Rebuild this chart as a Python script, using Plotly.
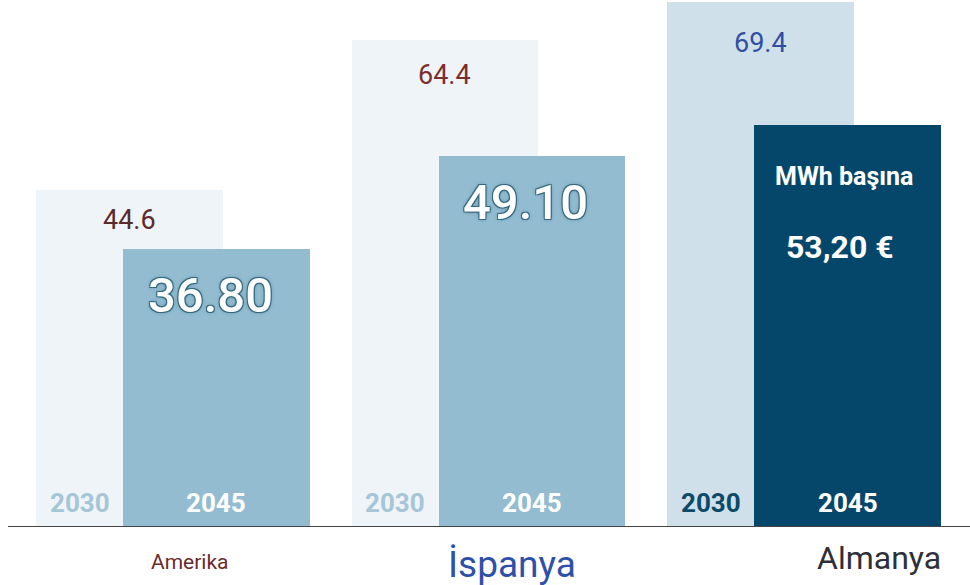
import plotly.graph_objects as go

countries = ["Amerika", "İspanya", "Almanya"]
values_2030 = [44.6, 64.4, 69.4]
values_2045 = [36.80, 49.10, 53.20]
labels_2030 = ["44.6", "64.4", "69.4"]
labels_2045 = ["36.80", "49.10", "53,20 €"]
unit_label = "MWh başına"
year_a = "2030"
year_b = "2045"

# styles
bar_col_2030 = ["#eff4f9", "#eff4f9", "#d0e0ea"]
bar_col_2045 = ["#93bcd1", "#93bcd1", "#05476a"]
year_col_2030 = ["#a6c6d8", "#a6c6d8", "#0b4a68"]
val_col_2030 = ["#5a2a2c", "#7a2e2e", "#2f4fa2"]
val_shift_2030 = [-30, -35, -41]
country_col = ["#6b2a2c", "#2f50a8", "#2f2f3a"]
country_size = [21, 37, 32]
country_dx = [0.054, 0.075, 0.238]
country_yshift = [-35, -37, -31]

W = 0.592
OFF_A = -0.434
OFF_B = -0.158
FONT = "Roboto, Arial, sans-serif"

x = list(range(len(countries)))

fig = go.Figure()
fig.add_trace(go.Bar(x=x, y=values_2030, width=[W] * 3, offset=OFF_A,
                     marker=dict(color=bar_col_2030, line=dict(width=0)),
                     hoverinfo="skip", name=year_a))
fig.add_trace(go.Bar(x=x, y=values_2045, width=[W] * 3, offset=OFF_B,
                     marker=dict(color=bar_col_2045, line=dict(width=0)),
                     hoverinfo="skip", name=year_b))

outline = ("1px 1px 0 #35697f, -1px -1px 0 #35697f, 1px -1px 0 #35697f, "
           "-1px 1px 0 #35697f, 0 0 4px #4f8198")

ann = []
for i, c in enumerate(countries):
    # 2030 value
    ann.append(dict(x=i + OFF_A + W / 2, y=values_2030[i], yshift=val_shift_2030[i],
                    text=labels_2030[i], showarrow=False,
                    font=dict(family=FONT, size=27, color=val_col_2030[i])))
    # year labels
    ann.append(dict(x=i + OFF_A + (OFF_B - OFF_A) / 2, y=0, yshift=24,
                    text="<b>%s</b>" % year_a, showarrow=False,
                    font=dict(family=FONT, size=26, color=year_col_2030[i])))
    ann.append(dict(x=i + OFF_B + W / 2, y=0, yshift=24,
                    text="<b>%s</b>" % year_b, showarrow=False,
                    font=dict(family=FONT, size=26, color="#ffffff")))
    # country label
    ann.append(dict(x=i + country_dx[i], y=0,
                    yshift=country_yshift[i], text=c, showarrow=False,
                    xanchor="center",
                    font=dict(family=FONT, size=country_size[i], color=country_col[i])))

# 2045 values
for i in range(2):
    ann.append(dict(x=i + OFF_B + W / 2 - 0.02, y=values_2045[i], yshift=-47,
                    text=labels_2045[i], showarrow=False,
                    font=dict(family=FONT, size=49, weight=500, color="#ffffff",
                              shadow=outline)))
ann.append(dict(x=2 + OFF_B + W / 2 - 0.01, y=values_2045[2], yshift=-52,
                text="<b>%s</b>" % unit_label, showarrow=False,
                font=dict(family=FONT, size=25, color="#ffffff")))
ann.append(dict(x=2 + OFF_B + W / 2 - 0.025, y=values_2045[2], yshift=-122,
                text="<b>%s</b>" % labels_2045[2], showarrow=False,
                font=dict(family=FONT, size=32, color="#ffffff")))

fig.update_layout(
    width=970, height=585,
    margin=dict(l=0, r=0, t=0, b=58),
    paper_bgcolor="#ffffff", plot_bgcolor="#ffffff",
    barmode="overlay", showlegend=False, bargap=0,
    xaxis=dict(range=[-0.548, 2.526], showticklabels=False, showgrid=False,
               zeroline=False, showline=False, fixedrange=True),
    yaxis=dict(range=[0, 69.7], showticklabels=False, showgrid=False,
               zeroline=False, showline=False, fixedrange=True),
    annotations=ann,
    shapes=[dict(type="line", xref="paper", yref="y", x0=8 / 970, x1=1,
                 y0=0, y1=0, line=dict(color="#444444", width=2))],
)

fig.write_html("out.html", config={"displayModeBar": False},
               post_script="document.body.style.margin='0';")
